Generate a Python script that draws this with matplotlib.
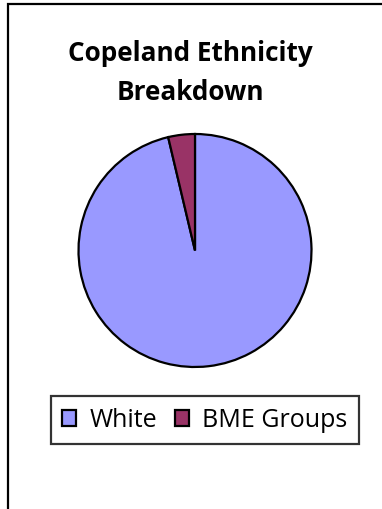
import matplotlib.pyplot as plt
from matplotlib.patches import Rectangle

# Data
labels = ['White', 'BME Groups']
shares = [96.3, 3.7]
colors = ['#9999FF', '#993366']

W, H = 382, 510
fig = plt.figure(figsize=(W / 100, H / 100), dpi=100)

# outer chart border (clipped at right and bottom like the original)
fig.patches.append(Rectangle((8 / W, -0.1), 1.2, 1.1 - 5 / H, transform=fig.transFigure,
                             fill=False, edgecolor='black', linewidth=1.6))

# pie: centre (195, 252) px, radius 116 px
cx, cy, r = 195, 251.5, 116.5
ax = fig.add_axes([(cx - r) / W, (H - cy - r) / H, 2 * r / W, 2 * r / H])
wedges, _ = ax.pie(shares, colors=colors, startangle=90, counterclock=False,
                   wedgeprops=dict(edgecolor='black', linewidth=1.6, clip_on=False))
ax.set_xlim(-1, 1)
ax.set_ylim(-1, 1)
ax.set_aspect('equal')
ax.axis('off')

fig.text(190 / W, 1 - 73 / H, 'Copeland Ethnicity\nBreakdown', ha='center', va='center',
         fontsize=18.8, fontweight='bold', family='Open Sans', linespacing=1.58)

leg = fig.legend(wedges, labels, loc='center', bbox_to_anchor=(205 / W, 1 - 421 / H),
                 ncol=2, frameon=True, fancybox=False, prop={'family': 'Open Sans', 'size': 18},
                 handlelength=0.55, handleheight=0.6, handletextpad=0.55, columnspacing=0.7,
                 borderpad=0.45, borderaxespad=0)
leg.get_frame().set_edgecolor('black')
leg.get_frame().set_linewidth(1.6)

fig.savefig('out.png', dpi=100)
